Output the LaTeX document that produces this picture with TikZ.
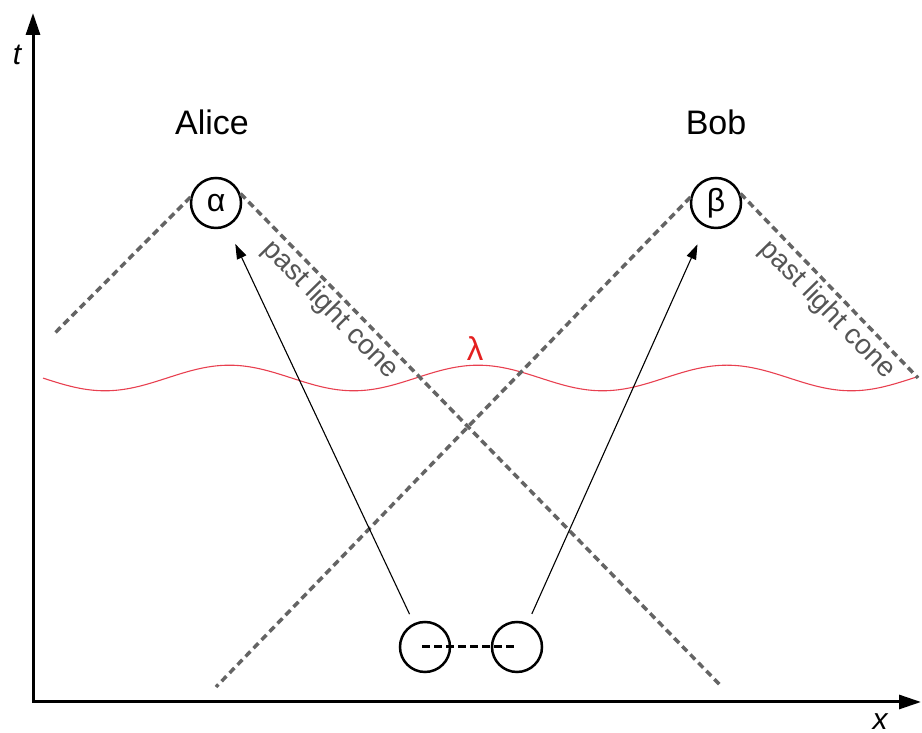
\documentclass[tikz,border=0pt]{standalone}
\usepackage{fontspec}
\setmainfont{Liberation Sans}
\usetikzlibrary{arrows.meta}
\definecolor{conegray}{RGB}{100,100,100}
\definecolor{labelgray}{RGB}{85,85,85}
\definecolor{wavered}{RGB}{232,64,80}
\definecolor{lamred}{RGB}{228,32,32}
\begin{document}
\begin{tikzpicture}[x=1pt,y=1pt,
  axisline/.style={line width=3pt},
  cone/.style={draw=conegray, line width=3.5pt, dash pattern=on 7pt off 4.5pt},
  evt/.style={circle, draw, line width=2.5pt, minimum size=50pt, inner sep=0pt, fill=white, font=\fontsize{32}{34}\selectfont},
  pair/.style={circle, draw, line width=2.5pt, minimum size=50pt, inner sep=0pt},
  lbl/.style={font=\fontsize{34}{38}\selectfont},
  axlbl/.style={font=\fontsize{30}{34}\selectfont\itshape},
  conelbl/.style={text=labelgray, font=\fontsize{28}{32}\selectfont, rotate=-45.5},
  ray/.style={line width=1.1pt, -{Triangle[length=15pt,width=10pt]}}]
\useasboundingbox (0,0) rectangle (922,733);
% axes
\coordinate (o) at (33,31);
\coordinate (tend) at (33,720);
\coordinate (xend) at (921,31);
\draw[axisline, {Triangle[length=22pt,width=14pt]}-{Triangle[length=22pt,width=14pt]}] (tend) -- (o) -- (xend);
\node[axlbl] (tl) at (17,678) {t};
\node[axlbl] (xl) at (880,11) {x};
% wave
\draw[wavered, line width=1.1pt] plot[smooth, domain=43:918, samples=120] (\x, {355 - 12.8*sin(1.44695*(\x-42.7))});
\node[text=lamred, font=\fontsize{33}{36}\selectfont] (lam) at (475,384) {λ};
% events
\node[evt] (alpha) at (216,530) {α};
\node[evt] (beta) at (716,530) {β};
\node[lbl] (alice) at (212,611) {Alice};
\node[lbl] (bob) at (716,611) {Bob};
% light cones
\coordinate (aL) at (53,398);
\coordinate (aR) at (722,46);
\coordinate (bL) at (216,46);
\coordinate (bR) at (918,355);
\draw[cone] (alpha.167) -- (aL);
\draw[cone] (alpha.21) -- (aR);
\draw[cone] (beta.167) -- (bL);
\draw[cone] (beta.21) -- (bR);
% source pair
\node[pair] (c1) at (425,86) {};
\node[pair] (c2) at (517,86) {};
\draw[line width=3pt, dash pattern=on 8pt off 4pt] ([xshift=-3pt]c1.center) -- (c2.center);
% rays
\draw[ray, shorten <=10pt, shorten >=19pt] (c1) -- (alpha);
\draw[ray, shorten <=10pt, shorten >=19pt] (c2) -- (beta);
% cone labels
\node[conelbl] (plcA) at (330,423) {past light cone};
\node[conelbl] (plcB) at (827,423) {past light cone};
\end{tikzpicture}
\end{document}
